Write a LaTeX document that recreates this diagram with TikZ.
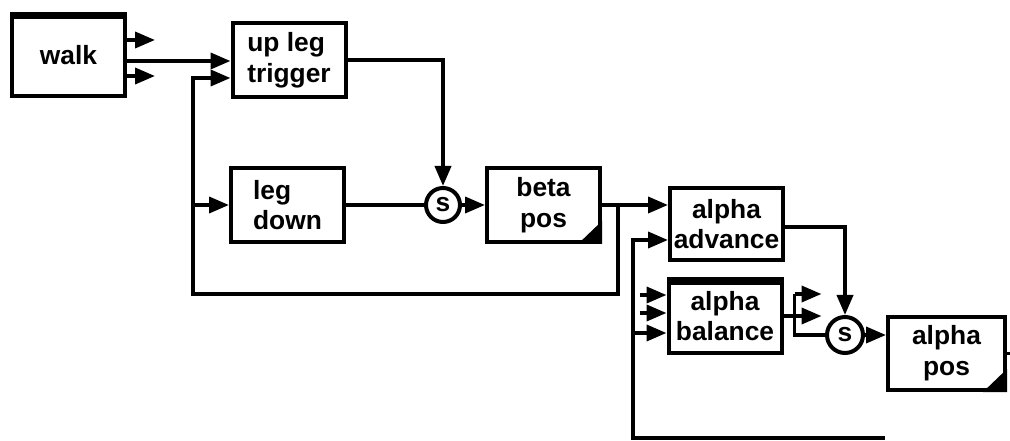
\documentclass[tikz,border=0pt]{standalone}
\usepackage{fontspec}
\setsansfont{Liberation Sans}
\usetikzlibrary{arrows.meta,calc}

\tikzset{
  block/.style={draw, line width=0.8mm, minimum width=22.6mm, minimum height=14.8mm,
    inner sep=0pt, align=center, font=\sffamily\bfseries\fontsize{15}{17.5}\selectfont},
  sum/.style={draw, circle, line width=0.8mm, minimum size=6.8mm, inner sep=0pt,
    font=\sffamily\bfseries\fontsize{15}{17}\selectfont},
  wire/.style={line width=0.75mm},
  conn/.style={wire, -{Triangle[length=4mm,width=3.2mm]}},
}

\begin{document}
\begin{tikzpicture}[x=0.2mm, y=-0.2mm]
        \useasboundingbox (0,0) rectangle (1010,441);

        % Blocchi
        \node[block, minimum height=16.4mm, text depth=-4mm] (walk) at (68.5,55) {walk};
        \node[block, align=left] (upleg) at (289,60) {up leg\\trigger};
        \node[block, align=left] (legdown) at (287.5,205) {leg\\down};
        \node[sum] (s1) at (443,205) {s};
        \node[block] (betapos) at (543.5,205) {beta\\pos};
        \node[block, minimum height=14.4mm] (alphaadv) at (726.5,224) {alpha\\advance};
        \node[block] (alphabal) at (725,316) {alpha\\balance};
        \node[sum, minimum size=7.2mm] (s2) at (845,335) {s};
        \node[block, minimum width=23.4mm, minimum height=14.6mm] (alphapos) at (946.5,353.5) {alpha\\pos};

        % Barre e angoli pieni
        \fill (walk.north west) rectangle ($(walk.north east)+(0,7)$);
        \fill (alphabal.north west) rectangle ($(alphabal.north east)+(0,8)$);
        \fill ($(betapos.south east)+(-24,0)$) -- (betapos.south east) -- ($(betapos.south east)+(0,-23)$) -- cycle;
        \fill ($(alphapos.south east)+(-24,0)$) -- (alphapos.south east) -- ($(alphapos.south east)+(0,-23)$) -- cycle;

        % Uscite di walk
        \draw[conn] ($(walk.east)+(0,-15)$) -- ++(28,0);
        \draw[conn] ($(walk.east)+(0,21)$) -- ++(28,0);
        \draw[conn] ($(walk.east)+(0,6)$) -- ($(upleg.west)+(0,1)$);

        % Ramo beta
        \draw[conn] (upleg.east) -| (s1.north);
        \draw[wire] (legdown.east) -- (s1.west);
        \draw[conn] (s1.east) -- (betapos.west);
        \draw[conn] (betapos.east) -- ($(alphaadv.west)+(0,-19)$);

        % Retroazione beta
        \coordinate (tap1) at ($(betapos.east)+(16,0)$);
        \coordinate (loop1) at (193,294);
        \coordinate (trig2) at ($(upleg.west)+(0,18)$);
        \draw[conn] (tap1) |- (loop1) |- (trig2);
        \draw[conn] (loop1 |- legdown.west) -- (legdown.west);

        % Retroazione alpha
        \coordinate (ret) at (885,438);
        \coordinate (loop2) at (633,438);
        \coordinate (adv2) at ($(alphaadv.west)+(0,16)$);
        \coordinate (bal3) at ($(alphabal.west)+(0,17)$);
        \draw[conn] (ret) -- (loop2) |- (adv2);
        \draw[conn] (loop2 |- bal3) -- (bal3);
        \foreach \dy in {-21,-3}
            \draw[conn] ($(alphabal.west)+(-27,\dy)$) -- ($(alphabal.west)+(0,\dy)$);

        % Ramo alpha
        \draw[conn] ($(alphaadv.east)+(0,3)$) -| (s2.north);
        \coordinate (split) at ($(alphabal.east)+(11,0)$);
        \draw[wire] (alphabal.east) -- (split);
        \draw[wire] ($(split)+(0,-22)$) -- ($(split)+(0,19)$) -- (s2.west);
        \draw[conn] ($(split)+(0,-22)$) -- ++(27,0);
        \draw[conn] (split) -- ++(27,0);
        \draw[conn] (s2.east) -- ($(alphapos.west)+(0,-18.5)$);

        \coordinate (exit) at (1010,353.5);
        \draw[wire] (alphapos.east) -- (exit);
\end{tikzpicture}
\end{document}
